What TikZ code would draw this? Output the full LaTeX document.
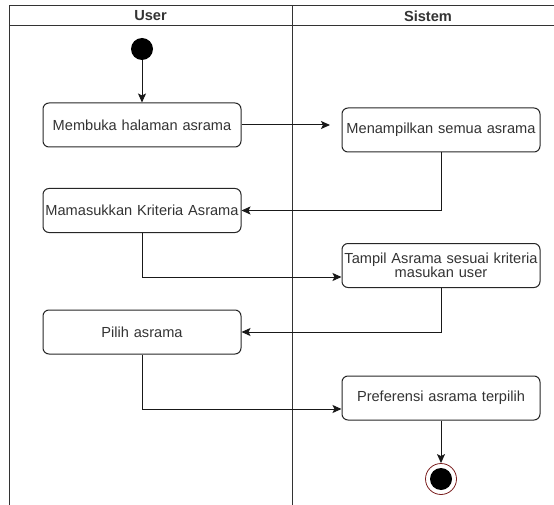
\documentclass[tikz,border=0pt]{standalone}
\usepackage{fontspec}
\setmainfont{Liberation Sans}
\usetikzlibrary{arrows.meta}
\definecolor{txt}{HTML}{333333}
\definecolor{endring}{HTML}{7A1E1E}
\begin{document}
\begin{tikzpicture}[x=1pt,y=-1pt,
  every node/.style={font=\fontsize{14.6}{17}\selectfont, text=txt},
  act/.style={draw=black!85, line width=1pt, rounded corners=6pt, minimum width=198pt,
    minimum height=44pt, inner sep=1pt, align=center, text width=196pt},
  lane/.style={draw=black!80, line width=1pt},
  flow/.style={draw=black!90, line width=1pt, -{Stealth[length=9pt,width=8pt,inset=2pt]}},
  head/.style={font=\fontsize{14.6}{17}\selectfont\bfseries, text=txt}]
\useasboundingbox (0,0) rectangle (554,505);
% swimlanes
\draw[lane] (9.5,505) -- (9.5,5.5) -- (554,5.5);
\draw[lane] (9.5,26) -- (554,26);
\draw[lane] (292.5,5.5) -- (292.5,505);
\node[head] (huser) at (150.5,16) {User};
\node[head] (hsys) at (428,16) {Sistem};
% start node
\node[circle, fill=black, minimum size=22pt, inner sep=0pt] (start) at (142,49) {};
% actions
\node[act] (a) at (142,125) {Membuka halaman asrama};
\node[act] (b) at (441,130) {Menampilkan semua asrama};
\node[act] (c) at (142,210.5) {Mamasukkan Kriteria Asrama};
\node[act] (d) at (441,265.5) {Tampil Asrama sesuai kriteria\\[-3pt]masukan user};
\node[act] (e) at (142,332) {Pilih asrama};
\node[act] (f) at (441,398) {Preferensi asrama terpilih};
% final node
\node[circle, draw=endring, line width=0.8pt, fill=white, minimum size=31pt, inner sep=0pt] (fin) at (441,479) {};
\node[circle, fill=black, minimum size=22pt, inner sep=0pt] (finc) at (fin) {};
% flows
\coordinate (aend) at (330,125);
\draw[flow] (start) -- (a);
\draw[flow] (a.east) -- (aend);
\draw[flow] (b.south) |- (c.east);
\draw[flow] (c.south) |- (d.west |- 0,277);
\draw[flow] (d.south) |- (e.east);
\draw[flow] (e.south) |- (f.west |- 0,409);
\draw[flow] (f.south) -- (fin.north);
\end{tikzpicture}
\end{document}
